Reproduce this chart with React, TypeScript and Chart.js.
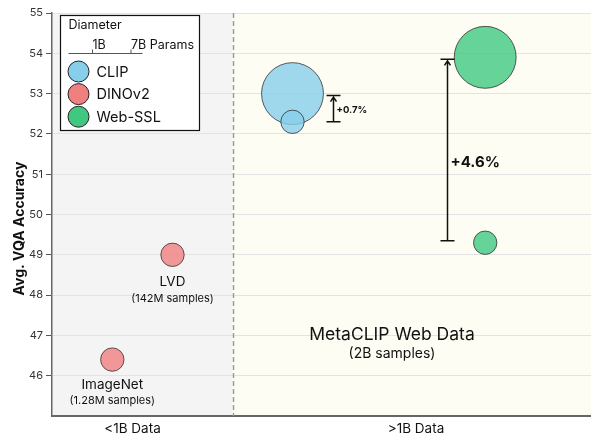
import { useEffect, useRef } from 'react';
import { Chart, registerables } from 'chart.js';

Chart.register(...registerables);

// ---------- data ----------
const seriesNames = ['CLIP', 'DINOv2', 'Web-SSL'];
const seriesColors = ['rgb(135,206,235)', 'rgb(240,128,128)', 'rgb(64,200,130)'];

// x positions are in "layout units" of the data axis
const clipX = [2.405, 2.405];
const clipY = [53.0, 52.3];
const clipParamsB = [7, 1];

const dinoX = [0.603, 1.205];
const dinoY = [46.4, 49.0];
const dinoParamsB = [1, 1];

const webSslX = [4.332, 4.332];
const webSslY = [53.9, 49.3];
const webSslParamsB = [7, 1];

const xRange = [0, 5.39];
const yRange = [45, 55];
const yTickValues = [46, 47, 48, 49, 50, 51, 52, 53, 54, 55];
const yAxisTitle = 'Avg. VQA Accuracy';
const dividerX = 1.805;
const xCategoryPositions = [0.805, 3.64];
const xCategoryLabels = ['<1B Data', '>1B Data'];

const annotationTexts = ['LVD', '(142M samples)', 'ImageNet', '(1.28M samples)', 'MetaCLIP Web Data', '(2B samples)'];
const annotationX = [1.205, 1.205, 0.603, 0.603, 3.40, 3.40];
const annotationY = [48.33, 47.9, 45.77, 45.37, 47.01, 46.54];

const gainLabels = ['+0.7%', '+4.6%'];
const gainX = [2.81, 3.95];
const gainFrom = [52.3, 49.35];
const gainTo = [52.95, 53.85];
const gainLabelY = [52.6, 51.3];

const legendSizeLabels = ['1B', '7B Params'];

// ---------- styles ----------
const FONT = 'Inter, "Noto Sans", sans-serif';
const annotationFont = ['13.5px', '11px', '13.5px', '11px', '17.5px', '14px'];
const gainFont = ['bold 9.5px', 'bold 15px'];
const leftBg = '#f4f4f4';
const rightBg = '#fdfdf3';

function radiusFor(paramsB: number) {
  return 11.7 * Math.sqrt(paramsB);
}

function withAlpha(rgb: string, a: number) {
  return rgb.replace('rgb(', 'rgba(').replace(')', `,${a})`);
}

function buildPoints(xs: number[], ys: number[], ps: number[]) {
  return xs.map((x, i) => ({ x, y: ys[i], r: radiusFor(ps[i]) }));
}

const overlayPlugin = {
  id: 'overlay',
  beforeDraw(chart: any) {
    const { ctx, chartArea: a, scales } = chart;
    const xd = scales.x.getPixelForValue(dividerX);
    ctx.save();
    ctx.fillStyle = leftBg;
    ctx.fillRect(a.left, a.top, xd - a.left, a.bottom - a.top);
    ctx.fillStyle = rightBg;
    ctx.fillRect(xd, a.top, a.right - xd, a.bottom - a.top);
    ctx.restore();
  },
  beforeDatasetsDraw(chart: any) {
    const { ctx, chartArea: a, scales } = chart;
    const xd = Math.round(scales.x.getPixelForValue(dividerX)) + 0.5;
    ctx.save();
    ctx.strokeStyle = '#9a9a9a';
    ctx.lineWidth = 1.5;
    ctx.setLineDash([5, 3]);
    ctx.beginPath();
    ctx.moveTo(xd, a.top);
    ctx.lineTo(xd, a.bottom);
    ctx.stroke();
    ctx.restore();
  },
  afterDatasetsDraw(chart: any) {
    const { ctx, scales } = chart;
    const xs = scales.x;
    const ys = scales.y;
    ctx.save();
    ctx.fillStyle = '#111';
    ctx.textAlign = 'center';
    ctx.textBaseline = 'middle';
    annotationTexts.forEach((t, i) => {
      ctx.font = `${annotationFont[i]} ${FONT}`;
      ctx.fillText(t, xs.getPixelForValue(annotationX[i]), ys.getPixelForValue(annotationY[i]));
    });
    // gain brackets
    ctx.strokeStyle = '#111';
    ctx.lineWidth = 1.5;
    gainLabels.forEach((label, i) => {
      const px = Math.round(xs.getPixelForValue(gainX[i])) + 0.5;
      const top = ys.getPixelForValue(gainTo[i]);
      const bot = ys.getPixelForValue(gainFrom[i]);
      const cap = 7;
      ctx.beginPath();
      ctx.moveTo(px - cap, top);
      ctx.lineTo(px + cap, top);
      ctx.moveTo(px - cap, bot);
      ctx.lineTo(px + cap, bot);
      ctx.moveTo(px, bot);
      ctx.lineTo(px, top + 1.5);
      ctx.moveTo(px - 3, top + 6);
      ctx.lineTo(px, top + 1.5);
      ctx.lineTo(px + 3, top + 6);
      ctx.stroke();
      ctx.font = `${gainFont[i]} ${FONT}`;
      ctx.textAlign = 'left';
      ctx.fillText(label, px + 3, ys.getPixelForValue(gainLabelY[i]));
    });
    ctx.restore();
  },
  afterDraw(chart: any) {
    const { ctx, chartArea: a } = chart;
    ctx.save();
    // y axis title
    ctx.translate(20, (a.top + a.bottom) / 2 + 14);
    ctx.rotate(-Math.PI / 2);
    ctx.fillStyle = '#111';
    ctx.textAlign = 'center';
    ctx.textBaseline = 'middle';
    ctx.font = `bold 14px ${FONT}`;
    ctx.fillText(yAxisTitle, 0, 0);
    ctx.restore();

    const bx = a.left + 8.5;
    const by = a.top + 2.5;
    const bw = 139;
    const bh = 115;
    ctx.save();
    ctx.fillStyle = '#ffffff';
    ctx.fillRect(bx, by, bw, bh);
    ctx.strokeStyle = '#111';
    ctx.lineWidth = 1.2;
    ctx.strokeRect(bx, by, bw, bh);
    ctx.fillStyle = '#111';
    ctx.textBaseline = 'middle';
    ctx.textAlign = 'left';
    ctx.font = `12.5px ${FONT}`;
    ctx.fillText('Diameter', bx + 8, by + 10);
    // size scale
    const lineY = by + 38;
    ctx.strokeStyle = '#555';
    ctx.lineWidth = 1;
    ctx.beginPath();
    ctx.moveTo(bx + 8, lineY);
    ctx.lineTo(bx + 82, lineY);
    const tickXs = [bx + 32, bx + 70.5];
    tickXs.forEach((tx) => {
      ctx.moveTo(tx, lineY);
      ctx.lineTo(tx, lineY - 4);
    });
    ctx.stroke();
    ctx.font = `12.5px ${FONT}`;
    legendSizeLabels.forEach((l, i) => ctx.fillText(l, tickXs[i], by + 30));
    // entries
    ctx.font = `14.5px ${FONT}`;
    chart.data.datasets.forEach((ds: any, i: number) => {
      const cy = by + 56 + i * 22.6;
      const cx = bx + 18;
      ctx.beginPath();
      ctx.arc(cx, cy, 10.5, 0, Math.PI * 2);
      ctx.fillStyle = seriesColors[i];
      ctx.fill();
      ctx.strokeStyle = '#222';
      ctx.lineWidth = 1;
      ctx.stroke();
      ctx.fillStyle = '#111';
      ctx.fillText(ds.label, bx + 36, cy + 1);
    });
    ctx.restore();
  },
};

export default function App() {
  const canvasRef = useRef<HTMLCanvasElement | null>(null);

  useEffect(() => {
    document.body.style.margin = '0';
    const canvas = canvasRef.current;
    if (!canvas) return;
    Chart.defaults.font.family = FONT;
    const pointSets = [
      buildPoints(clipX, clipY, clipParamsB),
      buildPoints(dinoX, dinoY, dinoParamsB),
      buildPoints(webSslX, webSslY, webSslParamsB),
    ];
    const chart = new Chart(canvas, {
      type: 'bubble',
      data: {
        datasets: seriesNames.map((name, i) => ({
          label: name,
          data: pointSets[i],
          backgroundColor: withAlpha(seriesColors[i], 0.8),
          borderColor: 'rgba(40,40,40,0.75)',
          borderWidth: 1,
          clip: false,
        })),
      },
      options: {
        animation: false,
        responsive: true,
        maintainAspectRatio: false,
        layout: { autoPadding: false, padding: { top: 13, right: 0, left: 0, bottom: 0 } },
        plugins: {
          legend: { display: false },
          tooltip: { enabled: false },
        },
        scales: {
          x: {
            type: 'linear',
            min: xRange[0],
            max: xRange[1],
            afterBuildTicks: (scale: any) => {
              scale.ticks = xCategoryPositions.map((v) => ({ value: v }));
            },
            afterFit: (scale: any) => {
              scale.height = 19;
            },
            ticks: {
              autoSkip: false,
              maxRotation: 0,
              padding: 5,
              color: '#111',
              font: { size: 13.5 },
              callback: (v: any) => {
                const idx = xCategoryPositions.indexOf(Number(v));
                return idx >= 0 ? xCategoryLabels[idx] : '';
              },
            },
            grid: { display: false, drawTicks: false },
            border: { display: true, color: '#666', width: 2 },
          },
          y: {
            type: 'linear',
            min: yRange[0],
            max: yRange[1],
            afterBuildTicks: (scale: any) => {
              scale.ticks = yTickValues.map((v) => ({ value: v }));
            },
            afterFit: (scale: any) => {
              scale.width = 52;
            },
            ticks: {
              padding: 3,
              color: '#333',
              font: { size: 11 },
            },
            grid: {
              color: '#e3e3e3',
              lineWidth: 1,
              drawTicks: true,
              tickLength: 6,
              tickColor: '#555',
            },
            border: { display: true, color: '#666', width: 1.5 },
            title: { display: false },
          },
        },
      },
      plugins: [overlayPlugin],
    });
    return () => chart.destroy();
  }, []);

  return (
    <div style={{ width: '591px', height: '435px', position: 'relative' }}>
      <canvas ref={canvasRef} />
    </div>
  );
}
